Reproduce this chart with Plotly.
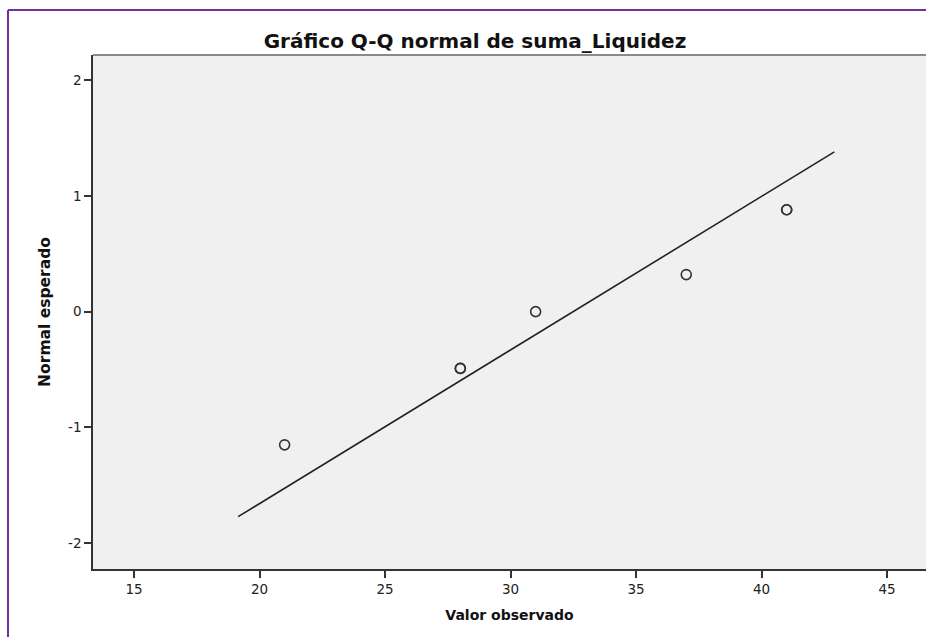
import plotly.graph_objects as go

# Data
observed = [21, 28, 28, 31, 37, 41, 41]
expected = [-1.15, -0.49, -0.49, 0.0, 0.32, 0.88, 0.88]
line_x = [19.15, 42.9]
line_y = [-1.77, 1.38]
x_ticks = [15, 20, 25, 30, 35, 40, 45]
y_ticks = [-2, -1, 0, 1, 2]
y_tick_labels = ["-2", "-1", "0", "1", "2"]

W, H = 926, 637
ML, MT, MB, MR = 93, 55, 68, 0
pw = W - ML - MR
ph = H - MT - MB

fig = go.Figure()
fig.add_trace(go.Scatter(
    x=line_x, y=line_y, mode="lines",
    line=dict(color="#222222", width=1.6), hoverinfo="skip", showlegend=False))
fig.add_trace(go.Scatter(
    x=observed, y=expected, mode="markers",
    marker=dict(symbol="circle-open", size=10, color="#333333",
                line=dict(width=1.6, color="#333333")),
    showlegend=False))

font_main = "DejaVu Sans, Verdana, sans-serif"

fig.update_layout(
    width=W, height=H,
    margin=dict(l=ML, r=MR, t=MT, b=MB, pad=0),
    paper_bgcolor="white", plot_bgcolor="#f0f0f0",
    font=dict(family=font_main, color="#222222"),
    title=dict(text="<b>Gráfico Q-Q normal de suma_Liquidez</b>",
               xref="container", yref="container",
               x=475 / W, y=1 - 41 / H, xanchor="center", yanchor="middle",
               font=dict(size=20, family=font_main, color="#111111")),
    xaxis=dict(range=[13.367, 46.55], tickvals=x_ticks, ticks="outside",
               ticklen=7, tickwidth=1.6, tickcolor="#333333",
               showline=True, linecolor="#333333", linewidth=1.6,
               showgrid=False, zeroline=False,
               tickfont=dict(size=13.5, color="#222222"),
               title=dict(text="<b>Valor observado</b>", standoff=14,
                          font=dict(size=14, color="#111111"))),
    yaxis=dict(range=[-2.222, 2.216], tickvals=y_ticks, ticktext=y_tick_labels,
               ticks="outside",
               ticklen=7, tickwidth=1.6, tickcolor="#333333",
               showline=True, linecolor="#333333", linewidth=1.6,
               showgrid=False, zeroline=False,
               tickfont=dict(size=13.5, color="#222222"),
               title=dict(text="<b>Normal esperado</b>", standoff=14,
                          font=dict(size=15.5, color="#111111"))),
)

# top border of plot area (gray)
fig.add_shape(type="line", xref="paper", yref="paper", x0=0, x1=1, y0=1, y1=1,
              line=dict(color="#8a8a8a", width=2))
# purple frame (left and top)
xl = (8 - ML) / pw
yt = 1 + (MT - 10) / ph
yb = -(MB + 5) / ph
fig.add_shape(type="line", xref="paper", yref="paper", x0=xl, x1=1.05, y0=yt, y1=yt,
              line=dict(color="#7030a0", width=2))
fig.add_shape(type="line", xref="paper", yref="paper", x0=xl, x1=xl, y0=yt, y1=yb,
              line=dict(color="#7030a0", width=2))

fig.write_html(
    "out.html",
    config={"displayModeBar": False},
    post_script="document.body.style.margin='0';document.body.style.padding='0';"
                "document.documentElement.style.overflow='hidden';"
                "document.body.style.overflow='hidden';",
)
